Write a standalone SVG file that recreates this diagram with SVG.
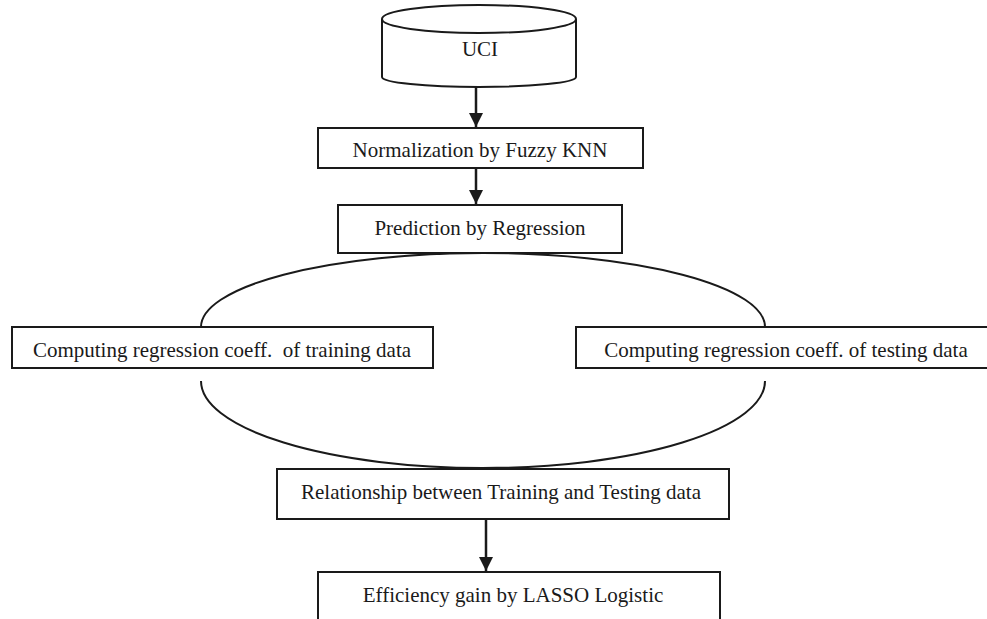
<svg xmlns="http://www.w3.org/2000/svg" width="987" height="619" viewBox="0 0 987 619">
<style>
.box{fill:#fff;stroke:#1a1a1a;stroke-width:2}
.arc{fill:none;stroke:#1a1a1a;stroke-width:2}
.t{font-family:"Liberation Serif","Times New Roman",serif;font-size:21px;fill:#1a1a1a;text-anchor:middle}
.conn{stroke:#1a1a1a;stroke-width:2.5;fill:none}
</style>
<defs>
<marker id="ah" markerWidth="14" markerHeight="14" viewBox="0 0 14 14" refX="14" refY="7" orient="auto" markerUnits="userSpaceOnUse">
<path d="M0,0 L14,7 L0,14 Z" fill="#1a1a1a"/>
</marker>
</defs>
<rect width="987" height="619" fill="#fff"/>
<g id="connectors">
<line class="conn" x1="476" y1="87" x2="476" y2="127" marker-end="url(#ah)"/>
<line class="conn" x1="476" y1="168" x2="476" y2="204" marker-end="url(#ah)"/>
<line class="conn" x1="486" y1="519" x2="486" y2="571" marker-end="url(#ah)"/>
<path class="arc" d="M201,327 A282,74 0 0 1 765,327"/>
<path class="arc" d="M201,381 A282,87 0 0 0 765,381"/>
</g>
<g id="uci">
<path class="box" d="M382,19 L382,77 A97,10 0 0 0 576,77 L576,19"/>
<ellipse class="box" cx="479" cy="19" rx="97" ry="14"/>
<text class="t" x="480" y="56">UCI</text>
</g>
<g id="normalization">
<rect class="box" x="318" y="128" width="325" height="40"/>
<text class="t" x="480" y="157">Normalization by Fuzzy KNN</text>
</g>
<g id="prediction">
<rect class="box" x="338" y="205" width="284" height="48"/>
<text class="t" x="480" y="235">Prediction by Regression</text>
</g>
<g id="training">
<rect class="box" x="12" y="327" width="421" height="41"/>
<text class="t" x="222" y="357" xml:space="preserve">Computing regression coeff.  of training data</text>
</g>
<g id="testing">
<rect class="box" x="576" y="327" width="420" height="41"/>
<text class="t" x="786" y="357">Computing regression coeff. of testing data</text>
</g>
<g id="relationship">
<rect class="box" x="277" y="469" width="452" height="50"/>
<text class="t" x="501" y="499">Relationship between Training and Testing data</text>
</g>
<g id="efficiency">
<rect class="box" x="318" y="572" width="402" height="60"/>
<text class="t" x="513" y="602">Efficiency gain by LASSO Logistic</text>
</g>
</svg>
